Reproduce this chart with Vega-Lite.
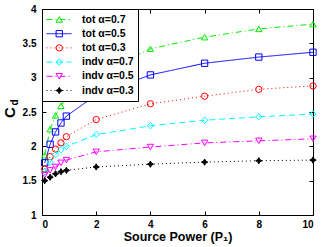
{
  "$schema": "https://vega.github.io/schema/vega-lite/v6.json",
  "width": 271,
  "height": 206,
  "autosize": {"type": "none"},
  "padding": {"left": 42, "top": 9, "right": 12, "bottom": 32},
  "config": {
    "view": {"stroke": "black", "strokeWidth": 1},
    "font": "Liberation Sans",
    "axis": {"grid": false, "domain": false, "tickColor": "black", "labelColor": "black", "titleColor": "black", "labelFont": "Liberation Sans", "titleFont": "Liberation Sans", "labelFontWeight": "bold", "titleFontWeight": "bold", "labelFontSize": 10},
    "legend": {"labelFont": "Liberation Sans", "labelFontWeight": "bold", "labelFontSize": 10.5, "labelColor": "black"}
  },
  "data": {"values": [
    {"x": 0.1, "v": 1.87, "s": "tot α=0.7"}, {"x": 0.3, "v": 2.25, "s": "tot α=0.7"}, {"x": 0.5, "v": 2.45, "s": "tot α=0.7"}, {"x": 0.7, "v": 2.59, "s": "tot α=0.7"}, {"x": 0.9, "v": 2.71, "s": "tot α=0.7"}, {"x": 2, "v": 3.05, "s": "tot α=0.7"}, {"x": 4, "v": 3.42, "s": "tot α=0.7"}, {"x": 6, "v": 3.59, "s": "tot α=0.7"}, {"x": 8, "v": 3.71, "s": "tot α=0.7"}, {"x": 10, "v": 3.78, "s": "tot α=0.7"},
    {"x": 0.1, "v": 1.76, "s": "tot α=0.5"}, {"x": 0.3, "v": 2.03, "s": "tot α=0.5"}, {"x": 0.5, "v": 2.21, "s": "tot α=0.5"}, {"x": 0.7, "v": 2.34, "s": "tot α=0.5"}, {"x": 0.9, "v": 2.44, "s": "tot α=0.5"}, {"x": 2, "v": 2.75, "s": "tot α=0.5"}, {"x": 4, "v": 3.04, "s": "tot α=0.5"}, {"x": 6, "v": 3.21, "s": "tot α=0.5"}, {"x": 8, "v": 3.30, "s": "tot α=0.5"}, {"x": 10, "v": 3.37, "s": "tot α=0.5"},
    {"x": 0.1, "v": 1.67, "s": "tot α=0.3"}, {"x": 0.3, "v": 1.85, "s": "tot α=0.3"}, {"x": 0.5, "v": 1.96, "s": "tot α=0.3"}, {"x": 0.7, "v": 2.05, "s": "tot α=0.3"}, {"x": 0.9, "v": 2.14, "s": "tot α=0.3"}, {"x": 2, "v": 2.39, "s": "tot α=0.3"}, {"x": 4, "v": 2.62, "s": "tot α=0.3"}, {"x": 6, "v": 2.73, "s": "tot α=0.3"}, {"x": 8, "v": 2.83, "s": "tot α=0.3"}, {"x": 10, "v": 2.88, "s": "tot α=0.3"},
    {"x": 0.1, "v": 1.63, "s": "indv α=0.7"}, {"x": 0.3, "v": 1.77, "s": "indv α=0.7"}, {"x": 0.5, "v": 1.88, "s": "indv α=0.7"}, {"x": 0.7, "v": 1.95, "s": "indv α=0.7"}, {"x": 0.9, "v": 2.00, "s": "indv α=0.7"}, {"x": 2, "v": 2.17, "s": "indv α=0.7"}, {"x": 4, "v": 2.30, "s": "indv α=0.7"}, {"x": 6, "v": 2.38, "s": "indv α=0.7"}, {"x": 8, "v": 2.43, "s": "indv α=0.7"}, {"x": 10, "v": 2.47, "s": "indv α=0.7"},
    {"x": 0.1, "v": 1.58, "s": "indv α=0.5"}, {"x": 0.3, "v": 1.65, "s": "indv α=0.5"}, {"x": 0.5, "v": 1.70, "s": "indv α=0.5"}, {"x": 0.7, "v": 1.76, "s": "indv α=0.5"}, {"x": 0.9, "v": 1.80, "s": "indv α=0.5"}, {"x": 2, "v": 1.92, "s": "indv α=0.5"}, {"x": 4, "v": 1.99, "s": "indv α=0.5"}, {"x": 6, "v": 2.05, "s": "indv α=0.5"}, {"x": 8, "v": 2.08, "s": "indv α=0.5"}, {"x": 10, "v": 2.11, "s": "indv α=0.5"},
    {"x": 0.1, "v": 1.50, "s": "indv α=0.3"}, {"x": 0.3, "v": 1.55, "s": "indv α=0.3"}, {"x": 0.5, "v": 1.60, "s": "indv α=0.3"}, {"x": 0.7, "v": 1.63, "s": "indv α=0.3"}, {"x": 0.9, "v": 1.65, "s": "indv α=0.3"}, {"x": 2, "v": 1.70, "s": "indv α=0.3"}, {"x": 4, "v": 1.74, "s": "indv α=0.3"}, {"x": 6, "v": 1.77, "s": "indv α=0.3"}, {"x": 8, "v": 1.79, "s": "indv α=0.3"}, {"x": 10, "v": 1.80, "s": "indv α=0.3"}
  ]},
  "resolve": {"axis": {"x": "independent", "y": "independent"}},
  "layer": [
    {
      "mark": {"type": "line", "strokeWidth": 1},
      "encoding": {
        "x": {"field": "x", "type": "quantitative", "scale": {"domain": [0, 10], "nice": false},
          "axis": {"values": [0, 2, 4, 6, 8, 10], "tickSize": -4, "labelPadding": 8, "title": "Source Power (P₁)", "titleFontSize": 12.5, "titlePadding": 1}},
        "y": {"field": "v", "type": "quantitative", "scale": {"domain": [1, 4], "nice": false, "zero": false},
          "axis": {"values": [1, 1.5, 2, 2.5, 3, 3.5, 4], "format": "~g", "tickSize": -4, "labelPadding": 10, "title": "C", "titleFontSize": 15, "titleX": -28, "titleY": 103, "titleAngle": 270, "titleBaseline": "alphabetic"}},
        "color": {"field": "s", "type": "nominal",
          "scale": {"domain": ["tot α=0.7", "tot α=0.5", "tot α=0.3", "indv α=0.7", "indv α=0.5", "indv α=0.3"], "range": ["#00ee00", "#0000ff", "#ff0000", "#00ffff", "#ff00ff", "#000000"]},
          "legend": {"title": null, "orient": "none", "legendX": 0, "legendY": 0, "strokeColor": "black", "fillColor": "white", "padding": 4, "symbolType": "M-2,0L2,0", "symbolSize": 156, "symbolStrokeWidth": 1, "symbolOffset": 6, "labelOffset": 16, "clipHeight": 13, "rowPadding": 1.2}},
        "strokeDash": {"field": "s", "type": "nominal",
          "scale": {"domain": ["tot α=0.7", "tot α=0.5", "tot α=0.3", "indv α=0.7", "indv α=0.5", "indv α=0.3"], "range": [[6, 3, 1, 3], [1, 0], [1, 3], [6, 4], [6, 3, 1, 3], [1, 3]]}}
      }
    },
    {
      "transform": [{"calculate": "'#' + datum.s", "as": "m"}],
      "mark": {"type": "point", "strokeWidth": 1, "opacity": 1},
      "encoding": {
        "x": {"field": "x", "type": "quantitative",
          "axis": {"orient": "top", "values": [0, 2, 4, 6, 8, 10], "tickSize": -4, "labels": false, "title": null}},
        "y": {"field": "v", "type": "quantitative",
          "axis": {"orient": "right", "values": [1, 1.5, 2, 2.5, 3, 3.5, 4], "tickSize": -4, "labels": false, "title": "d", "titleFontSize": 10, "titleX": -296, "titleY": 93, "titleAngle": 270, "titleBaseline": "alphabetic"}},
        "shape": {"field": "m", "type": "nominal",
          "scale": {"domain": ["#tot α=0.7", "#tot α=0.5", "#tot α=0.3", "#indv α=0.7", "#indv α=0.5", "#indv α=0.3"], "range": ["triangle-up", "square", "circle", "diamond", "triangle-down", "M0,-1L0.35,-0.35L1,0L0.35,0.35L0,1L-0.35,0.35L-1,0L-0.35,-0.35Z"]},
          "legend": {"title": null, "orient": "none", "legendX": 8, "legendY": 0, "padding": 4, "symbolSize": 40, "symbolStrokeWidth": 1, "labelExpr": "''", "clipHeight": 13, "rowPadding": 1.2}},
        "stroke": {"field": "m", "type": "nominal",
          "scale": {"domain": ["#tot α=0.7", "#tot α=0.5", "#tot α=0.3", "#indv α=0.7", "#indv α=0.5", "#indv α=0.3"], "range": ["#00ee00", "#0000ff", "#ff0000", "#00ffff", "#ff00ff", "#000000"]}},
        "fill": {"field": "m", "type": "nominal",
          "scale": {"domain": ["#tot α=0.7", "#tot α=0.5", "#tot α=0.3", "#indv α=0.7", "#indv α=0.5", "#indv α=0.3"], "range": ["transparent", "transparent", "transparent", "transparent", "transparent", "#000000"]}},
        "size": {"value": 40}
      }
    }
  ]
}
